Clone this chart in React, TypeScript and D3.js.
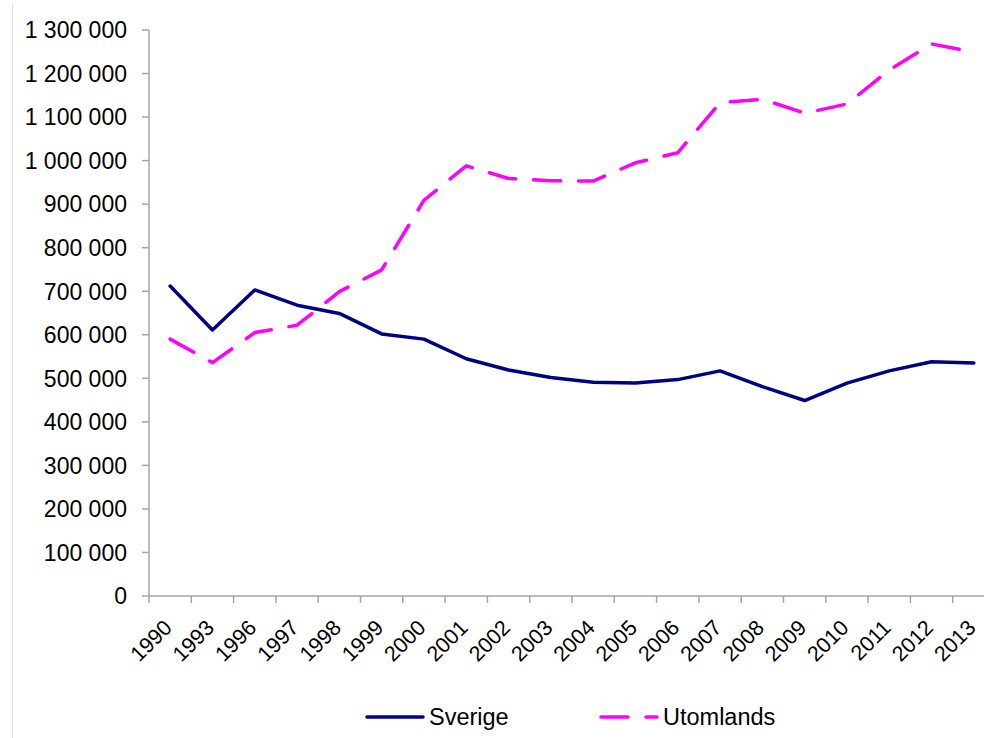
import React from 'react';
import * as d3 from 'd3';

const years = ['1990', '1993', '1996', '1997', '1998', '1999', '2000', '2001', '2002', '2003', '2004', '2005', '2006', '2007', '2008', '2009', '2010', '2011', '2012', '2013'];

const sverige = [712000, 611000, 703000, 668000, 649000, 602000, 590000, 545000, 519000, 502000, 491000, 489000, 497000, 517000, 481000, 449000, 489000, 517000, 538000, 535000];

const utomlands = [590000, 536000, 605000, 622000, 699000, 749000, 909000, 988000, 959000, 954000, 953000, 995000, 1018000, 1133000, 1141000, 1109000, 1130000, 1208000, 1268000, 1249000];

const yTicks = [0, 100000, 200000, 300000, 400000, 500000, 600000, 700000, 800000, 900000, 1000000, 1100000, 1200000, 1300000];

const seriesNames = ['Sverige', 'Utomlands'];

const width = 984;
const height = 738;
const margin = { top: 30, left: 149, bottom: 596, right: 995 };

const NAVY = '#000080';
const MAGENTA = '#ff00ff';
const AXIS = '#a6a6a6';
const FONT = '"Liberation Sans", Arial, sans-serif';

const fmt = d3.formatLocale({ decimal: ',', thousands: ' ', grouping: [3], currency: ['', ''] }).format(',');

export default function App() {
  const x = d3.scaleBand<string>().domain(years).range([margin.left, margin.right]).padding(0);
  const y = d3.scaleLinear().domain([0, 1300000]).range([margin.bottom, margin.top]);
  const cx = (yr: string) => (x(yr) ?? 0) + x.bandwidth() / 2;

  const line = d3.line<number>()
    .x((_, i) => cx(years[i]))
    .y(d => y(d));

  return (
    <svg
      width={width}
      height={height}
      style={{ position: 'fixed', left: 0, top: 0, background: '#fff' }}
      fontFamily={FONT}
    >
      {/* faint chart border */}
      <line x1={12.5} x2={12.5} y1={3} y2={height} stroke="#e3e3e3" strokeWidth={1} />

      {/* y axis */}
      <line x1={margin.left} x2={margin.left} y1={margin.top} y2={margin.bottom} stroke={AXIS} strokeWidth={1.5} />
      {yTicks.map(t => (
        <g key={t}>
          <line x1={margin.left - 7} x2={margin.left} y1={y(t)} y2={y(t)} stroke={AXIS} strokeWidth={1.5} />
          <text x={127} y={y(t)} dy="0.36em" textAnchor="end" fontSize={23} fill="#000">
            {fmt(t)}
          </text>
        </g>
      ))}

      {/* x axis */}
      <line x1={margin.left} x2={width} y1={margin.bottom} y2={margin.bottom} stroke={AXIS} strokeWidth={1.5} />
      {years.map(yr => (
        <line key={'t' + yr} x1={x(yr)} x2={x(yr)} y1={margin.bottom} y2={margin.bottom + 7} stroke={AXIS} strokeWidth={1.5} />
      ))}
      <line x1={margin.right} x2={margin.right} y1={margin.bottom} y2={margin.bottom + 7} stroke={AXIS} strokeWidth={1.5} />
      {years.map(yr => (
        <text
          key={'l' + yr}
          transform={`translate(${cx(yr) + 3},${margin.bottom + 33}) rotate(-45)`}
          textAnchor="end"
          fontSize={21.5}
          fill="#000"
        >
          {yr}
        </text>
      ))}

      {/* series */}
      <path d={line(sverige) ?? ''} fill="none" stroke={NAVY} strokeWidth={3.5} strokeLinejoin="round" strokeLinecap="round" />
      <path
        d={line(utomlands) ?? ''}
        fill="none"
        stroke={MAGENTA}
        strokeWidth={3.5}
        strokeLinejoin="round"
        strokeLinecap="round"
        strokeDasharray="27 18"
      />

      {/* legend */}
      <line x1={367} x2={423} y1={717} y2={717} stroke={NAVY} strokeWidth={3.5} strokeLinecap="round" />
      <text x={429} y={725} fontSize={23.5} fill="#000">{seriesNames[0]}</text>
      <line x1={601} x2={657} y1={717} y2={717} stroke={MAGENTA} strokeWidth={3.5} strokeLinecap="round" strokeDasharray="27 18" />
      <text x={663} y={725} fontSize={23.5} fill="#000">{seriesNames[1]}</text>
    </svg>
  );
}
